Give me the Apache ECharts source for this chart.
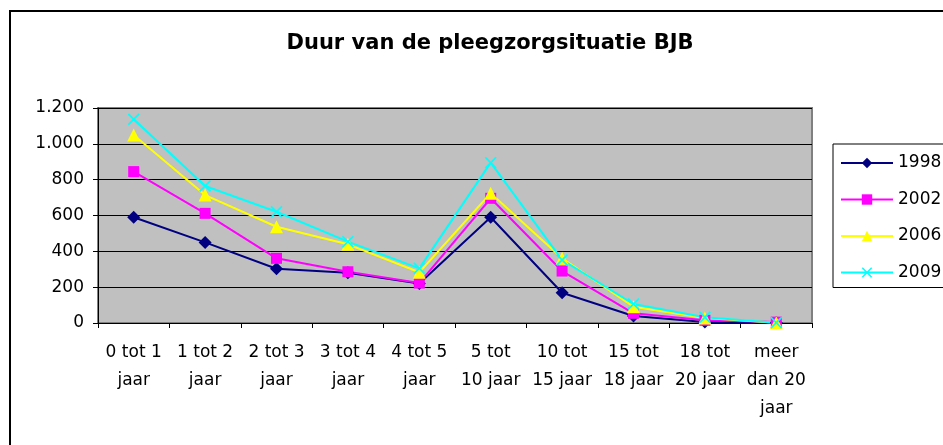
<!DOCTYPE html>
<html>
<head>
<meta charset="utf-8">
<script src="https://cdn.jsdelivr.net/npm/echarts@6/dist/echarts.min.js"></script>
<style>
  html, body { margin: 0; padding: 0; background: #fff; }
  #container { width: 943px; height: 445px; }
</style>
</head>
<body>
<div id="container"></div>
<script>
// categorieen (duur)
var categories = ['0 tot 1\njaar', '1 tot 2\njaar', '2 tot 3\njaar', '3 tot 4\njaar', '4 tot 5\njaar',
  '5 tot\n10 jaar', '10 tot\n15 jaar', '15 tot\n18 jaar', '18 tot\n20 jaar', 'meer\ndan 20\njaar']

var jaren = ['1998', '2002', '2006', '2009']
var data1998 = [590, 450, 303, 281, 221, 590, 169, 39, 5, 2]
var data2002 = [845, 612, 361, 286, 223, 696, 290, 54, 15, 5]
var data2006 = [1049, 714, 537, 439, 283, 724, 361, 91, 28, 2]
var data2009 = [1137, 765, 621, 454, 305, 895, 352, 106, 32, 2]
var yTicks = [0, 200, 400, 600, 800, 1000, 1200]

var font = 'DejaVu Sans'
var kruis = 'path://M0,1L1,0L5,4L9,0L10,1L6,5L10,9L9,10L5,6L1,10L0,9L4,5Z'

function lijn(name, data, color, symbol, size) {
  return {
    name: name,
    type: 'line',
    data: data,
    symbol: symbol,
    symbolSize: size,
    showAllSymbol: true,
    lineStyle: { color: color, width: 2 },
    itemStyle: { color: color },
    emphasis: { disabled: true },
    animation: false
  }
}

var chart = echarts.init(document.getElementById('container'))
var option = {
  animation: false,
  title: {
    text: 'Duur van de pleegzorgsituatie BJB',
    left: 490,
    textAlign: 'center',
    top: 33,
    padding: 0,
    textStyle: { fontFamily: font, fontWeight: 'bold', fontSize: 21, color: '#000' }
  },
  graphic: [{
    type: 'rect',
    shape: { x: 10, y: 11, width: 1000, height: 1000 },
    style: { fill: 'none', stroke: '#000', lineWidth: 2 },
    silent: true
  }],
  legend: {
    orient: 'vertical',
    left: 833,
    top: 144,
    padding: [9, 7, 5, 7],
    itemWidth: 52,
    itemHeight: 13,
    itemGap: 16.5,
    borderColor: '#000',
    borderWidth: 1,
    data: jaren,
    textStyle: { fontFamily: font, fontSize: 17, color: '#000', lineHeight: 20 }
  },
  grid: {
    left: 98,
    right: 131,
    top: 108,
    bottom: 122,
    show: true,
    backgroundColor: '#C0C0C0',
    borderColor: '#808080',
    borderWidth: 2
  },
  xAxis: {
    type: 'category',
    data: categories,
    boundaryGap: true,
    axisLine: { lineStyle: { color: '#000', width: 1 } },
    axisTick: { show: true, length: 5, inside: false, lineStyle: { color: '#000' } },
    axisLabel: {
      interval: 0,
      margin: 16,
      color: '#000',
      fontFamily: font,
      fontSize: 17,
      lineHeight: 28
    }
  },
  yAxis: {
    type: 'value',
    min: yTicks[0],
    max: yTicks[yTicks.length - 1],
    interval: 200,
    axisLine: { show: true, lineStyle: { color: '#000', width: 1 } },
    axisTick: { show: true, length: 5, lineStyle: { color: '#000' } },
    splitLine: { lineStyle: { color: '#000', width: 1 } },
    axisLabel: {
      margin: 14,
      color: '#000',
      fontFamily: font,
      fontSize: 17,
      formatter: function(v) {
        return String(v).replace(/\B(?=(\d{3})+(?!\d))/g, '.')
      }
    }
  },
  series: [
    lijn('1998', data1998, '#000080', 'diamond', 13),
    lijn('2002', data2002, '#FF00FF', 'rect', 11),
    lijn('2006', data2006, '#FFFF00', 'triangle', 13),
    lijn('2009', data2009, '#00FFFF', kruis, 12)
  ]
}
chart.setOption(option)
</script>
</body>
</html>
